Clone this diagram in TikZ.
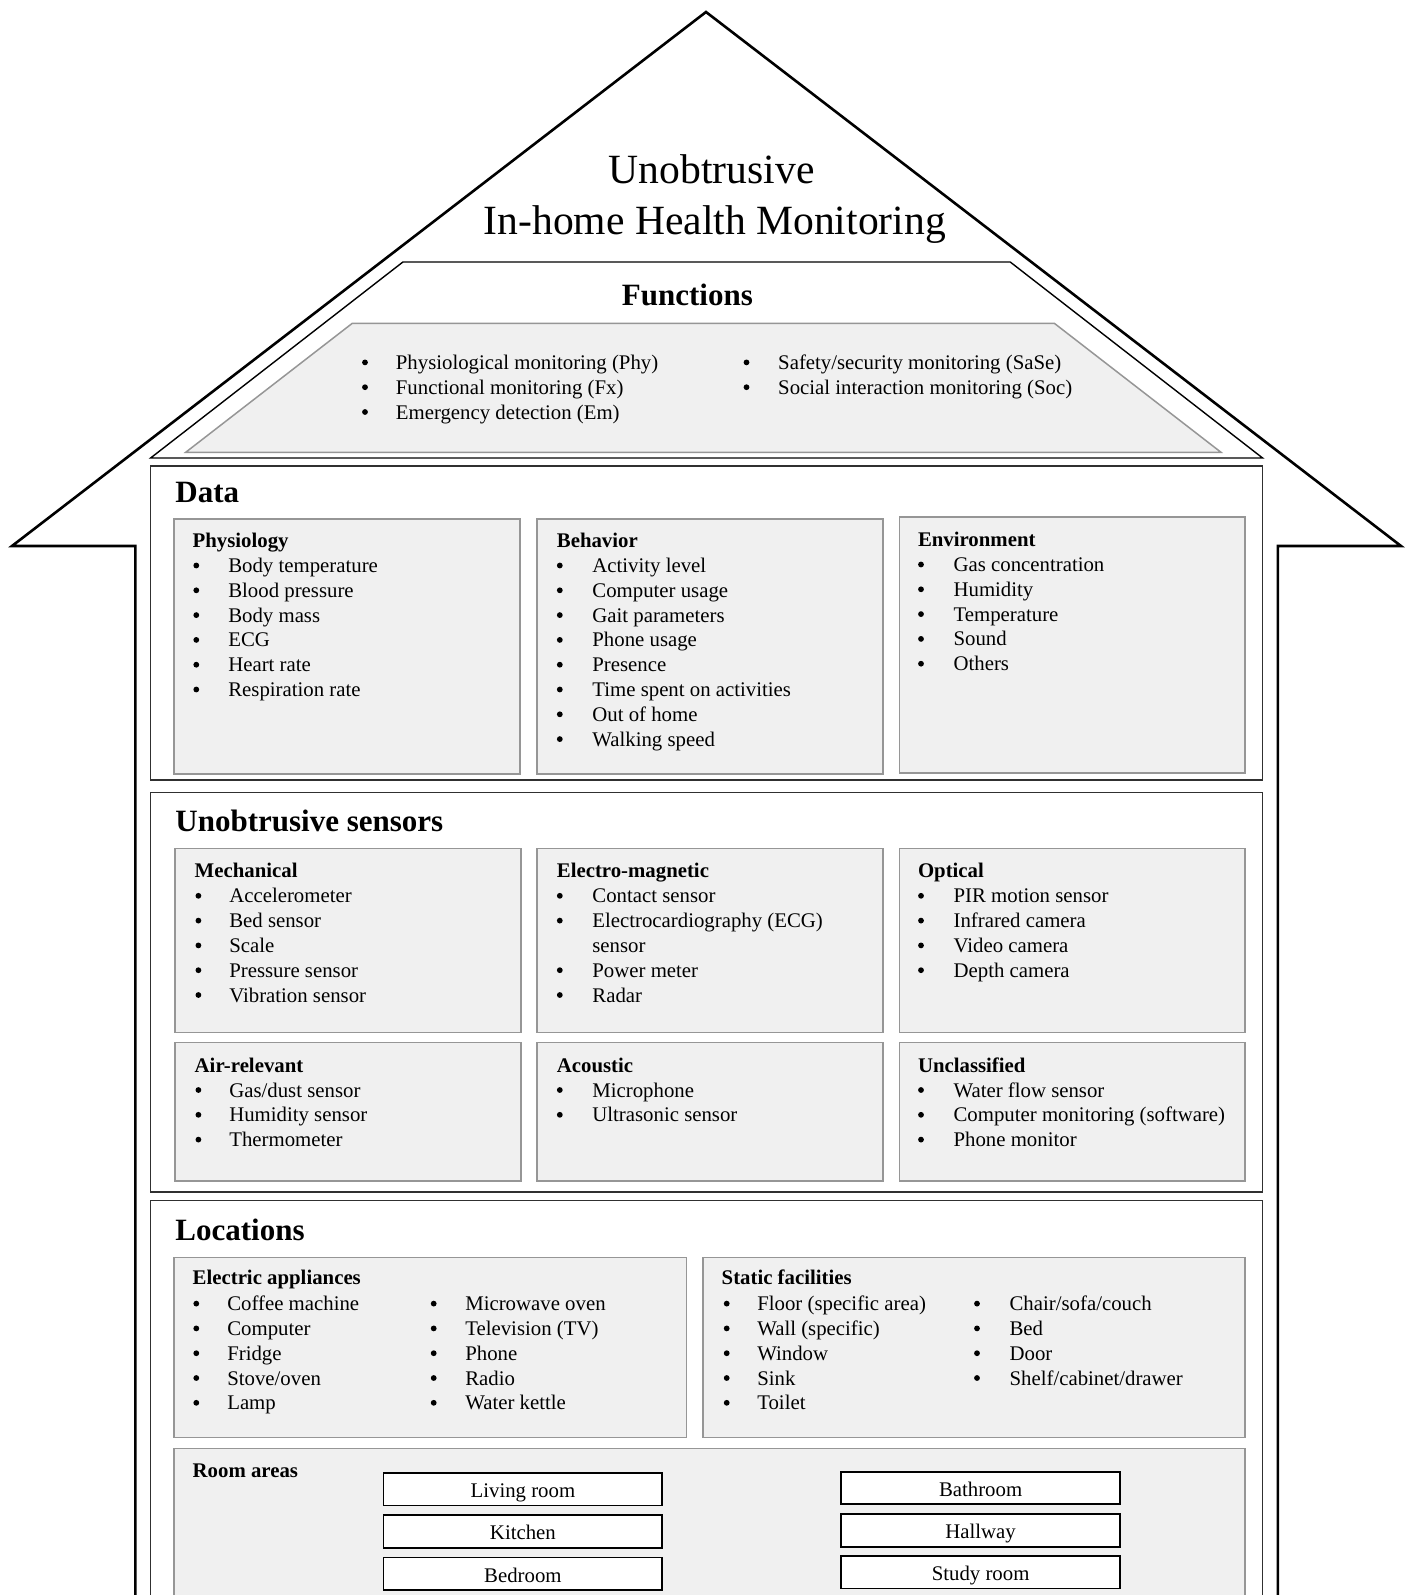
\documentclass[tikz,border=0pt]{standalone}
\usepackage{fontspec}
\setmainfont{Liberation Serif}
\definecolor{boxfill}{HTML}{F0F0F0}
\definecolor{boxline}{HTML}{969696}
\definecolor{secline}{HTML}{303030}
\newcommand{\blist}[5]{%
  \foreach \itm [count=\i] in {#5} {%
    \node[bul] (#1b\i) at (#2, {#4+24.8*(\i-1)-7}) {};
    \node[txt] (#1t\i) at (#3, {#4+24.8*(\i-1)}) {\itm};
  }}
\begin{document}
\begin{tikzpicture}[x=0.5pt,y=-0.5pt,
  house/.style={draw=black, line width=1.3pt},
  funcbox/.style={draw=black, line width=0.7pt, fill=white},
  secbox/.style={draw=secline, line width=0.85pt, fill=white},
  graybox/.style={draw=boxline, line width=0.75pt, fill=boxfill},
  roombox/.style={draw=black, line width=0.9pt, fill=white, inner sep=0pt,
    minimum width=139.4pt, minimum height=16.2pt, text height=8.4pt, text depth=0pt,
    font=\fontsize{10.4}{12}\selectfont},
  txt/.style={anchor=base west, inner sep=0pt, font=\fontsize{10.4}{12}\selectfont},
  bul/.style={circle, fill=black, inner sep=0pt, minimum size=2.9pt},
  hd/.style={anchor=base west, inner sep=0pt, font=\fontsize{10.4}{12}\selectfont\bfseries},
  sec/.style={anchor=base west, inner sep=0pt, font=\fontsize{15.5}{18}\selectfont\bfseries},
  title/.style={anchor=base, inner sep=0pt, font=\fontsize{20.8}{25}\selectfont}]
\path[use as bounding box] (0,0) rectangle (1408,1595);
\clip (0,0) rectangle (1408,1595);
\fill[white] (0,0) rectangle (1408,1595);

% house outline
\draw[house, line join=miter] (135.3,1620) -- (135.3,546) -- (12,546) -- (706,12) -- (1401,546) -- (1277.8,546) -- (1277.8,1620);

% title
\node[title] (t1) at (711.7,184) {Unobtrusive};
\node[title] (t2) at (714.8,234) {In-home Health Monitoring};

% functions
\draw[funcbox] (402.9,262) -- (1010.2,262) -- (1262.6,458) -- (150.6,458) -- cycle;
\draw[graybox] (352.3,323.3) -- (1054.3,323.3) -- (1221,452.3) -- (185.7,452.3) -- cycle;
\node[sec, anchor=base] (fn) at (687.4,305) {Functions};
\blist{fa}{365}{395.5}{369.4}{Physiological monitoring (Phy), Functional monitoring (Fx), Emergency detection (Em)}
\blist{fb}{746.5}{777.8}{369.4}{Safety/security monitoring (SaSe), Social interaction monitoring (Soc)}

% Data
\draw[secbox] (150.6,466) rectangle (1262.6,780.3);
\node[sec] (data) at (175,502.5) {Data};
\draw[graybox] (174,518.8) rectangle (519.8,774.2);
\draw[graybox] (537.1,518.8) rectangle (883,774.2);
\draw[graybox] (899.3,516.8) rectangle (1245.2,773.2);
\node[hd] (phy) at (192.3,547.2) {Physiology};
\blist{ph}{196.3}{227.9}{572.5}{Body temperature, Blood pressure, Body mass, ECG, Heart rate, Respiration rate}
\node[hd] (beh) at (556.5,547.2) {Behavior};
\blist{be}{559.8}{592}{572.5}{Activity level, Computer usage, Gait parameters, Phone usage, Presence, Time spent on activities, Out of home, Walking speed}
\node[hd] (env) at (917.6,546.2) {Environment};
\blist{en}{921}{953.2}{571.5}{Gas concentration, Humidity, Temperature, Sound, Others}

% Sensors
\draw[secbox] (150.6,792.5) rectangle (1262.6,1192.3);
\node[sec] (sens) at (175,831.7) {Unobtrusive sensors};
\draw[graybox] (175,848.4) rectangle (520.9,1032.6);
\draw[graybox] (537.1,848.4) rectangle (883,1032.6);
\draw[graybox] (899.3,848.4) rectangle (1245.2,1032.6);
\draw[graybox] (175,1042.7) rectangle (520.9,1181.1);
\draw[graybox] (537.1,1042.7) rectangle (883,1181.1);
\draw[graybox] (899.3,1042.7) rectangle (1245.2,1181.1);
\node[hd] (mech) at (194.3,877.8) {Mechanical};
\blist{me}{198.4}{228.9}{902.8}{Accelerometer, Bed sensor, Scale, Pressure sensor, Vibration sensor}
\node[hd] (elec) at (556.5,877.8) {Electro-magnetic};
\blist{el}{559.8}{592}{902.8}{Contact sensor, Electrocardiography (ECG)}
\node[txt] (elsensor) at (592,952.4) {sensor};
\blist{em}{559.8}{592}{977.2}{Power meter, Radar}
\node[hd] (opt) at (917.6,877.8) {Optical};
\blist{op}{921}{953.2}{902.8}{PIR motion sensor, Infrared camera, Video camera, Depth camera}
\node[hd] (air) at (194.3,1072.1) {Air-relevant};
\blist{ai}{198.4}{228.9}{1097}{Gas/dust sensor, Humidity sensor, Thermometer}
\node[hd] (aco) at (556.5,1072.1) {Acoustic};
\blist{ac}{559.8}{592}{1097}{Microphone, Ultrasonic sensor}
\node[hd] (uncl) at (917.6,1072.1) {Unclassified};
\blist{un}{921}{953.2}{1097}{Water flow sensor, Computer monitoring (software), Phone monitor}

% Locations
\draw[secbox] (150.6,1200.4) rectangle (1262.6,1640);
\node[sec] (loc) at (175,1240.7) {Locations};
\draw[graybox] (174,1257.4) rectangle (686.7,1437.5);
\draw[graybox] (703,1257.4) rectangle (1245.2,1437.5);
\draw[graybox] (174,1448.7) rectangle (1245.2,1640);
\node[hd] (ea) at (192.3,1284.8) {Electric appliances};
\blist{ea}{196.3}{226.9}{1310.6}{Coffee machine, Computer, Fridge, Stove/oven, Lamp}
\blist{eb}{433.7}{464.9}{1310.6}{Microwave oven, Television (TV), Phone, Radio, Water kettle}
\node[hd] (sf) at (721.3,1284.8) {Static facilities};
\blist{sa}{726.7}{756.9}{1310.6}{Floor (specific area), Wall (specific), Window, Sink, Toilet}
\blist{sb}{977}{1009.2}{1310.6}{Chair/sofa/couch, Bed, Door, Shelf/cabinet/drawer}
\node[hd] (ra) at (192.3,1477) {Room areas};
\node[roombox] (living) at (522.9,1489.3) {Living room};
\node[roombox] (kitchen) at (522.9,1531.5) {Kitchen};
\node[roombox] (bedroom) at (522.9,1573.7) {Bedroom};
\node[roombox] (bath) at (980.6,1487.8) {Bathroom};
\node[roombox] (hall) at (980.6,1530.5) {Hallway};
\node[roombox] (study) at (980.6,1572.3) {Study room};
\end{tikzpicture}
\end{document}
